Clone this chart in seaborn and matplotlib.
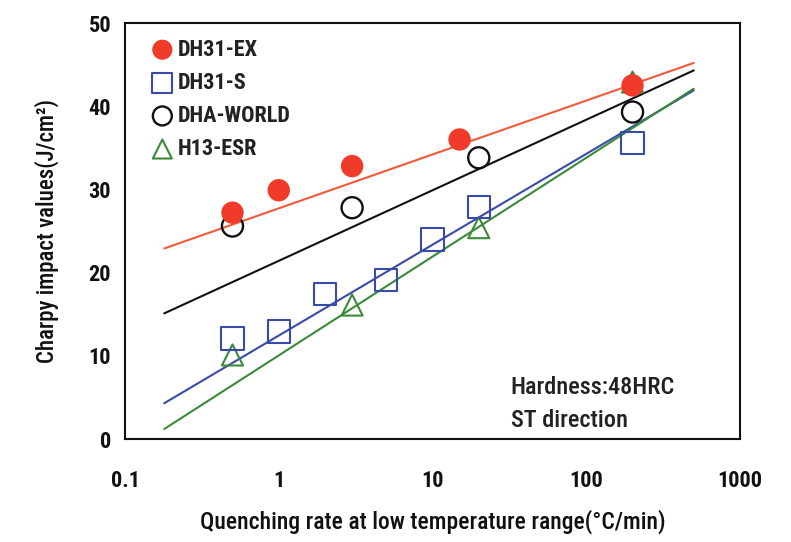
import matplotlib
matplotlib.use("Agg")
import matplotlib.pyplot as plt
import seaborn as sns
import pandas as pd
import numpy as np

# ---- data ----
ex_rate = [0.5, 1, 3, 15, 200]
ex_val = [27.2, 29.9, 32.8, 36.0, 42.5]

s_rate = [0.5, 1, 2, 5, 10, 20, 200]
s_val = [12.1, 12.9, 17.4, 19.1, 24.0, 27.9, 35.6]

world_rate = [0.5, 3, 20, 200]
world_val = [25.6, 27.8, 33.8, 39.3]

esr_rate = [0.5, 3, 20, 200]
esr_val = [10.1, 16.1, 25.4, 42.9]

# trend line end points (rate range and value at each end)
fit_rate = [0.18, 500]
ex_fit = [22.9, 45.2]
world_fit = [15.1, 44.3]
s_fit = [4.3, 41.9]
esr_fit = [1.2, 42.1]

x_ticks = [0.1, 1, 10, 100, 1000]
x_ticklabels = ["0.1", "1", "10", "100", "1000"]
y_ticks = [0, 10, 20, 30, 40, 50]

sns.set_theme(style="white")
plt.rcParams['font.family'] = ['Roboto Condensed', 'DejaVu Sans']

fig = plt.figure(figsize=(7.91, 5.42), dpi=100)
ax = fig.add_axes([125 / 791, 1 - 439 / 542, (740 - 125) / 791, (439 - 23) / 542])

RED = "#f03a2a"
LRED = "#f05a3a"
BLUE = "#3a4aa8"
GREEN = "#3a8a3a"
BLACK = "#111111"

for vals, col in [(ex_fit, LRED), (world_fit, BLACK), (s_fit, BLUE), (esr_fit, GREEN)]:
    sns.lineplot(x=fit_rate, y=vals, ax=ax, color=col, lw=1.5, legend=False)

sns.scatterplot(x=esr_rate, y=esr_val, ax=ax, marker="^", s=230,
                facecolor="none", edgecolor=GREEN, linewidth=1.5, label="H13-ESR", zorder=3)
sns.scatterplot(x=s_rate, y=s_val, ax=ax, marker="s", s=260,
                facecolor="none", edgecolor=BLUE, linewidth=1.5, label="DH31-S", zorder=3)
sns.scatterplot(x=world_rate, y=world_val, ax=ax, marker="o", s=230,
                facecolor="none", edgecolor=BLACK, linewidth=1.7, label="DHA-WORLD", zorder=3)
sns.scatterplot(x=ex_rate, y=ex_val, ax=ax, marker="o", s=260,
                color=RED, edgecolor="none", label="DH31-EX", zorder=4)

ax.set_xscale("log")
ax.set_xlim(0.1, 1000)
ax.set_ylim(0, 50)
ax.set_xticks(x_ticks)
ax.set_xticklabels(x_ticklabels)
ax.set_yticks(y_ticks)
ax.xaxis.set_minor_locator(matplotlib.ticker.NullLocator())
ax.tick_params(axis="both", which="major", direction="in", length=6, width=1.2,
               labelsize=16, colors=BLACK, pad=10)
ax.tick_params(axis="x", pad=22)
for lab in ax.get_xticklabels() + ax.get_yticklabels():
    lab.set_fontweight("bold")

for sp in ax.spines.values():
    sp.set_visible(True)
    sp.set_color(BLACK)
    sp.set_linewidth(1.5)

ax.set_xlabel("Quenching rate at low temperature range(°C/min)", fontsize=17,
              fontweight="medium", labelpad=13, color=BLACK)
ax.set_ylabel("Charpy impact values(J/cm²)", fontsize=16.5, fontweight="medium",
              labelpad=21, color=BLACK)

handles, labels = ax.get_legend_handles_labels()
order = ["DH31-EX", "DH31-S", "DHA-WORLD", "H13-ESR"]
hmap = dict(zip(labels, handles))
leg = ax.legend([hmap[k] for k in order], order, loc="upper left", frameon=False,
                prop={"size": 16, "weight": "bold"}, handletextpad=0.0, handlelength=1.4,
                labelspacing=0.5, borderaxespad=0.58, markerscale=0.9,
                bbox_to_anchor=(0.0, 1.015))
for t in leg.get_texts():
    t.set_color("#222222")

ax.text(0.627, 0.018, "Hardness:48HRC\nST direction", transform=ax.transAxes,
        fontsize=17.5, fontweight="medium", linespacing=1.55, va="bottom", ha="left",
        color="#222222")

fig.savefig("out.png", dpi=100)
